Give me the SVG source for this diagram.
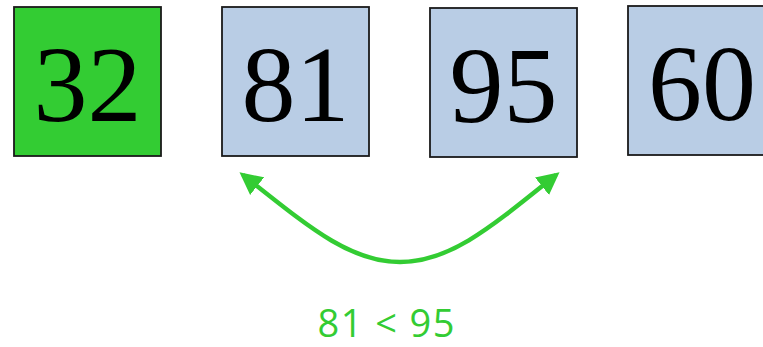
<svg xmlns="http://www.w3.org/2000/svg" width="763" height="347" viewBox="0 0 763 347">
<defs>
<style>
.box{stroke:#1a1a1a;stroke-width:1.8}
.num{font-family:'Liberation Serif','Times New Roman',Times,serif;font-size:108px;fill:#000;text-anchor:middle}
.lbl{font-family:'Open Sans','Noto Sans',sans-serif;font-size:38px;fill:#33cc33;text-anchor:middle}
</style>
<marker id="ah" viewBox="0 0 10 10" refX="8" refY="5" markerWidth="5" markerHeight="5" orient="auto-start-reverse" markerUnits="strokeWidth">
<path d="M0,0 L10,5 L0,10 Z" fill="#33cc33"/>
</marker>
</defs>
<g id="n32"><rect class="box" x="14" y="7" width="147" height="149" fill="#33cc33"/><text class="num" x="87.5" y="121">32</text></g>
<g id="n81"><rect class="box" x="222" y="7" width="147" height="149" fill="#b9cde5"/><text class="num" x="295.5" y="121">81</text></g>
<g id="n95"><rect class="box" x="430" y="8" width="147" height="149" fill="#b9cde5"/><text class="num" x="503.5" y="122">95</text></g>
<g id="n60"><rect class="box" x="628" y="6" width="150" height="149" fill="#b9cde5"/><text class="num" x="702" y="120">60</text></g>
<g id="connectors">
<path d="M243,175 C310,228 350,262 400,262 C450,262 490,228 556,175" fill="none" stroke="#33cc33" stroke-width="4.5" marker-start="url(#ah)" marker-end="url(#ah)"/>
</g>
<text class="lbl" x="386" y="337" textLength="137" lengthAdjust="spacing">81 &lt; 95</text>
</svg>
